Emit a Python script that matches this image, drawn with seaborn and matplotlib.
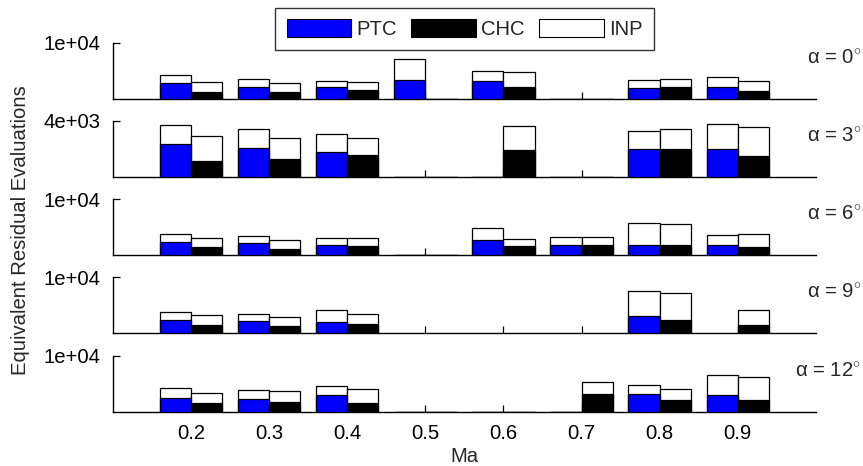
import numpy as np
import pandas as pd
import matplotlib
matplotlib.use("Agg")
import matplotlib.pyplot as plt
import seaborn as sns
from matplotlib.patches import Patch

nan = np.nan

# ---------------- data ----------------
MA = [0.2, 0.3, 0.4, 0.5, 0.6, 0.7, 0.8, 0.9]
ALPHAS = [0, 3, 6, 9, 12]
Y_TOPS = [1e4, 4e3, 1e4, 1e4, 1e4]
Y_TICK_LABELS = ["1e+04", "4e+03", "1e+04", "1e+04", "1e+04"]
METHODS = ["PTC", "CHC"]

# alpha = 0
PTC_A0 = [2860, 2080, 2080, 3390, 3210, 0, 1850, 2020]
INP_PTC_A0 = [1310, 1370, 1070, 3750, 1790, 0, 1420, 1790]
CHC_A0 = [1190, 1130, 1610, 0, 2020, 0, 2140, 1310]
INP_CHC_A0 = [1730, 1610, 1310, 0, 2680, 0, 1310, 1900]
# alpha = 3
PTC_A3 = [2380, 2100, 1790, 0, 0, 0, 1980, 2020]
INP_PTC_A3 = [1310, 1300, 1280, 0, 0, 0, 1280, 1790]
CHC_A3 = [1170, 1290, 1600, 0, 1950, 0, 2000, 1480]
INP_CHC_A3 = [1760, 1500, 1190, 0, 1690, 0, 1400, 2090]
# alpha = 6
PTC_A6 = [2440, 2140, 1790, 0, 2800, 1900, 1850, 1790]
INP_PTC_A6 = [1310, 1370, 1360, 0, 2080, 1310, 3920, 1900]
CHC_A6 = [1490, 1130, 1670, 0, 1730, 1900, 1790, 1490]
INP_CHC_A6 = [1610, 1610, 1430, 0, 1250, 1310, 3860, 2320]
# alpha = 9
PTC_A9 = [2440, 2140, 2080, nan, nan, nan, 3100, nan]
INP_PTC_A9 = [1370, 1370, 2090, nan, nan, nan, 4460, nan]
CHC_A9 = [1490, 1370, 1670, nan, nan, nan, 2440, 1550]
INP_CHC_A9 = [1720, 1490, 1720, nan, nan, nan, 4700, 2560]
# alpha = 12
PTC_A12 = [2500, 2200, 3040, 0, 0, 0, 3150, 2980]
INP_PTC_A12 = [1670, 1610, 1540, 0, 0, 0, 1550, 3510]
CHC_A12 = [1490, 1730, 1550, 0, 0, 3150, 2020, 2140]
INP_CHC_A12 = [1900, 1960, 2500, 0, 0, 2090, 1970, 3990]

PANELS = [
    (PTC_A0, INP_PTC_A0, CHC_A0, INP_CHC_A0),
    (PTC_A3, INP_PTC_A3, CHC_A3, INP_CHC_A3),
    (PTC_A6, INP_PTC_A6, CHC_A6, INP_CHC_A6),
    (PTC_A9, INP_PTC_A9, CHC_A9, INP_CHC_A9),
    (PTC_A12, INP_PTC_A12, CHC_A12, INP_CHC_A12),
]

# ---------------- style ----------------
sns.set_style("ticks")
plt.rcParams["font.family"] = ["Liberation Sans", "DejaVu Sans"]
plt.rcParams["mathtext.fontset"] = "custom"
plt.rcParams["mathtext.rm"] = "Liberation Sans"
FS = 14.6

W, H = 863, 466
fig = plt.figure(figsize=(W / 100, H / 100), dpi=100)

left_px, right_px = 112.7, 816.0
ax_h_px = 56.0
first_bottom_px = 98.7
step_px = 78.25

axes = []
for i in range(5):
    bottom_px = first_bottom_px + step_px * i
    ax = fig.add_axes([left_px / W, 1 - bottom_px / H,
                       (right_px - left_px) / W, ax_h_px / H])
    axes.append(ax)

for i, ax in enumerate(axes):
    ptc, inp_ptc, chc, inp_chc = PANELS[i]
    rows = []
    for j, m in enumerate(MA):
        rows.append({"Ma": m, "method": "PTC", "base": ptc[j],
                     "total": ptc[j] + inp_ptc[j]})
        rows.append({"Ma": m, "method": "CHC", "base": chc[j],
                     "total": chc[j] + inp_chc[j]})
    df = pd.DataFrame(rows)

    # INP on top (drawn as full-height white bars)
    sns.barplot(data=df, x="Ma", y="total", hue="method", hue_order=METHODS,
                native_scale=True, palette={"PTC": "white", "CHC": "white"},
                saturation=1, errorbar=None, width=0.8, edgecolor="black",
                linewidth=0.9, legend=False, ax=ax, zorder=2)
    # base portion
    sns.barplot(data=df, x="Ma", y="base", hue="method", hue_order=METHODS,
                native_scale=True, palette={"PTC": "#0000ff", "CHC": "#000000"},
                saturation=1, errorbar=None, width=0.8, edgecolor="black",
                linewidth=0.9, legend=False, ax=ax, zorder=3)

    ax.set_xlim(0.1, 1.0)
    ax.set_ylim(0, Y_TOPS[i])
    ax.set_yticks([Y_TOPS[i]])
    ax.set_yticklabels([Y_TICK_LABELS[i]])
    ax.set_xticks(MA)
    ax.set_xticklabels([f"{m:.1f}" for m in MA])
    ax.set_xlabel("")
    ax.set_ylabel("")
    ax.tick_params(direction="in", length=5, width=0.9, colors="black",
                   labelsize=FS, pad=9)
    if i < 4:
        ax.tick_params(axis="x", labelbottom=False)
    for s in ["top", "right"]:
        ax.spines[s].set_visible(False)
    for s in ["left", "bottom"]:
        ax.spines[s].set_color("black")
        ax.spines[s].set_linewidth(1.0)
    ax.patch.set_visible(False)

    top_px = first_bottom_px + step_px * i - ax_h_px
    fig.text(861 / W, 1 - (top_px + 15) / H,
             "α = %d$^{\\circ}$" % ALPHAS[i], ha="right", va="center",
             fontsize=FS)

axes[-1].set_xlabel("Ma", fontsize=FS, labelpad=2.5)

fig.text(21 / W, 1 - 230 / H, "Equivalent Residual Evaluations",
         rotation=90, ha="center", va="center", fontsize=FS)

handles = [Patch(facecolor="#0000ff", edgecolor="black", linewidth=0.8),
           Patch(facecolor="#000000", edgecolor="black", linewidth=0.8),
           Patch(facecolor="white", edgecolor="black", linewidth=0.8)]
leg = fig.legend(handles, ["PTC", "CHC", "INP"], ncol=3, loc="upper center",
                 bbox_to_anchor=(464.5 / W, 1 - 8 / H), fontsize=FS,
                 frameon=True, fancybox=False, edgecolor="black",
                 handlelength=3.2, handleheight=1.0, handletextpad=0.25,
                 columnspacing=0.7, borderpad=0.55, borderaxespad=0)
leg.get_frame().set_linewidth(1.0)
leg.set_zorder(10)

fig.savefig("out.png", dpi=100)
